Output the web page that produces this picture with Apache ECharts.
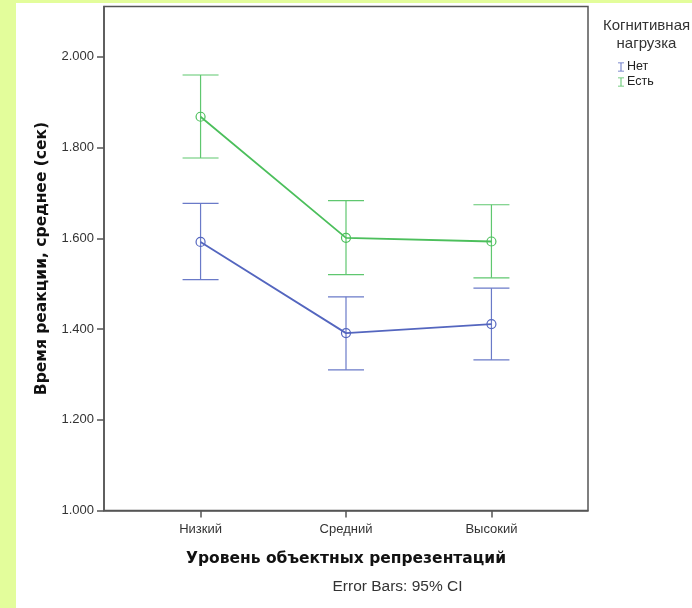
<!DOCTYPE html>
<html>
<head>
<meta charset="utf-8">
<script src="https://cdn.jsdelivr.net/npm/echarts@6/dist/echarts.min.js"></script>
<style>
html,body{margin:0;padding:0;background:#e3fd9b;width:692px;height:608px;overflow:hidden;}
#chart{position:absolute;left:16px;top:3px;width:676px;height:605px;background:#ffffff;}
</style>
</head>
<body>
<div id="chart"></div>
<script>
var categories = ['Низкий', 'Средний', 'Высокий'];
var seriesNames = ['Нет', 'Есть'];
var netMean = [1.592, 1.391, 1.411];
var netLow  = [1.509, 1.310, 1.332];
var netHigh = [1.677, 1.471, 1.490];
var estMean = [1.868, 1.601, 1.593];
var estLow  = [1.777, 1.520, 1.513];
var estHigh = [1.960, 1.683, 1.674];
var yTicks = [1.0, 1.2, 1.4, 1.6, 1.8, 2.0];
var xTicks = [0, 1, 2];

var blue = '#5466bf';
var green = '#4cbf5c';
var blueErr = '#6a7ac8';
var greenErr = '#5fc76f';
var fontFam = '"Liberation Sans", Arial, sans-serif';
var boldFam = '"DejaVu Sans", "Liberation Sans", Arial, sans-serif';

function pts(arr){ return arr.map(function(v,i){ return [i, v]; }); }
function bars(lo, hi){ return lo.map(function(v,i){ return [i, v, hi[i]]; }); }

function errSeries(name, data, color){
  return {
    name: name,
    type: 'custom',
    data: data,
    z: 2,
    silent: true,
    renderItem: function(params, api){
      var x = api.value(0);
      var lo = api.coord([x, api.value(1)]);
      var hi = api.coord([x, api.value(2)]);
      var hw = 18;
      var st = {stroke: color, lineWidth: 1.2};
      return {type: 'group', children: [
        {type:'line', shape:{x1:lo[0], y1:lo[1], x2:hi[0], y2:hi[1]}, style: st},
        {type:'line', shape:{x1:lo[0]-hw, y1:lo[1], x2:lo[0]+hw, y2:lo[1]}, style: st},
        {type:'line', shape:{x1:hi[0]-hw, y1:hi[1], x2:hi[0]+hw, y2:hi[1]}, style: st}
      ]};
    }
  };
}
function lineSeries(name, data, color){
  return {
    name: name,
    type: 'line',
    data: data,
    z: 3,
    symbol: 'circle',
    symbolSize: 9,
    lineStyle: {color: color, width: 1.8},
    itemStyle: {color: 'rgba(0,0,0,0)', borderColor: color, borderWidth: 1.2},
    emphasis: {disabled: true}
  };
}

var chart = echarts.init(document.getElementById('chart'), null, {renderer: 'canvas'});
var ibeam = 'path://M0,0 L8,0 L8,1 L4.6,1 L4.6,11 L8,11 L8,12 L0,12 L0,11 L3.4,11 L3.4,1 L0,1 Z';
chart.setOption({
  animation: false,
  backgroundColor: '#ffffff',
  grid: {left: 88, top: 3.5, right: 104, bottom: 97.5, show: true, borderColor: '#555', borderWidth: 1.5, containLabel: false},
  title: [
    {text: 'Когнитивная\nнагрузка', left: 625.5, top: 9, textAlign: 'center',
     textStyle: {fontFamily: fontFam, fontSize: 15, fontWeight: 'normal', color: '#333', lineHeight: 18}},
    {text: 'Error Bars: 95% CI', left: 376.5, top: 571, textAlign: 'center',
     textStyle: {fontFamily: fontFam, fontSize: 15.5, fontWeight: 'normal', color: '#333'}}
  ],
  legend: {
    orient: 'vertical',
    left: 602, top: 57, padding: 0,
    itemWidth: 6, itemHeight: 10, itemGap: 1,
    data: [
      {name: seriesNames[0], icon: ibeam, itemStyle: {color: blue, borderWidth: 0}},
      {name: seriesNames[1], icon: ibeam, itemStyle: {color: green, borderWidth: 0}}
    ],
    textStyle: {fontFamily: fontFam, fontSize: 12.5, color: '#222', padding: [0,0,0,-2], lineHeight: 14},
    selectedMode: false
  },
  xAxis: {
    type: 'value', min: -0.664, max: 2.664,
    splitLine: {show: false},
    axisLine: {show: true, onZero: false, lineStyle: {color: '#555', width: 1.5}},
    axisTick: {show: true, customValues: xTicks, length: 7, lineStyle: {color: '#555', width: 1.5}},
    axisLabel: {customValues: xTicks, margin: 12, fontFamily: fontFam, fontSize: 13, color: '#333',
      formatter: function(v){ return categories[Math.round(v)]; }},
    name: 'Уровень объектных репрезентаций', nameLocation: 'middle', nameGap: 40,
    nameTextStyle: {fontFamily: boldFam, fontSize: 15.5, fontWeight: 'bold', color: '#111'}
  },
  yAxis: {
    type: 'value', min: 1.0, max: 2.111,
    splitLine: {show: false},
    axisLine: {show: true, onZero: false, lineStyle: {color: '#555', width: 1.5}},
    axisTick: {show: true, customValues: yTicks, length: 7, lineStyle: {color: '#555', width: 1.5}},
    axisLabel: {customValues: yTicks, margin: 10, fontFamily: fontFam, fontSize: 13, color: '#333',
      formatter: function(v){ return v.toFixed(3); }},
    name: 'Время реакции, среднее (сек)', nameLocation: 'middle', nameGap: 54,
    nameTextStyle: {fontFamily: boldFam, fontSize: 15.5, fontWeight: 'bold', color: '#111'}
  },
  series: [
    errSeries(seriesNames[0], bars(netLow, netHigh), blueErr),
    errSeries(seriesNames[1], bars(estLow, estHigh), greenErr),
    lineSeries(seriesNames[0], pts(netMean), blue),
    lineSeries(seriesNames[1], pts(estMean), green)
  ]
});
</script>
</body>
</html>
